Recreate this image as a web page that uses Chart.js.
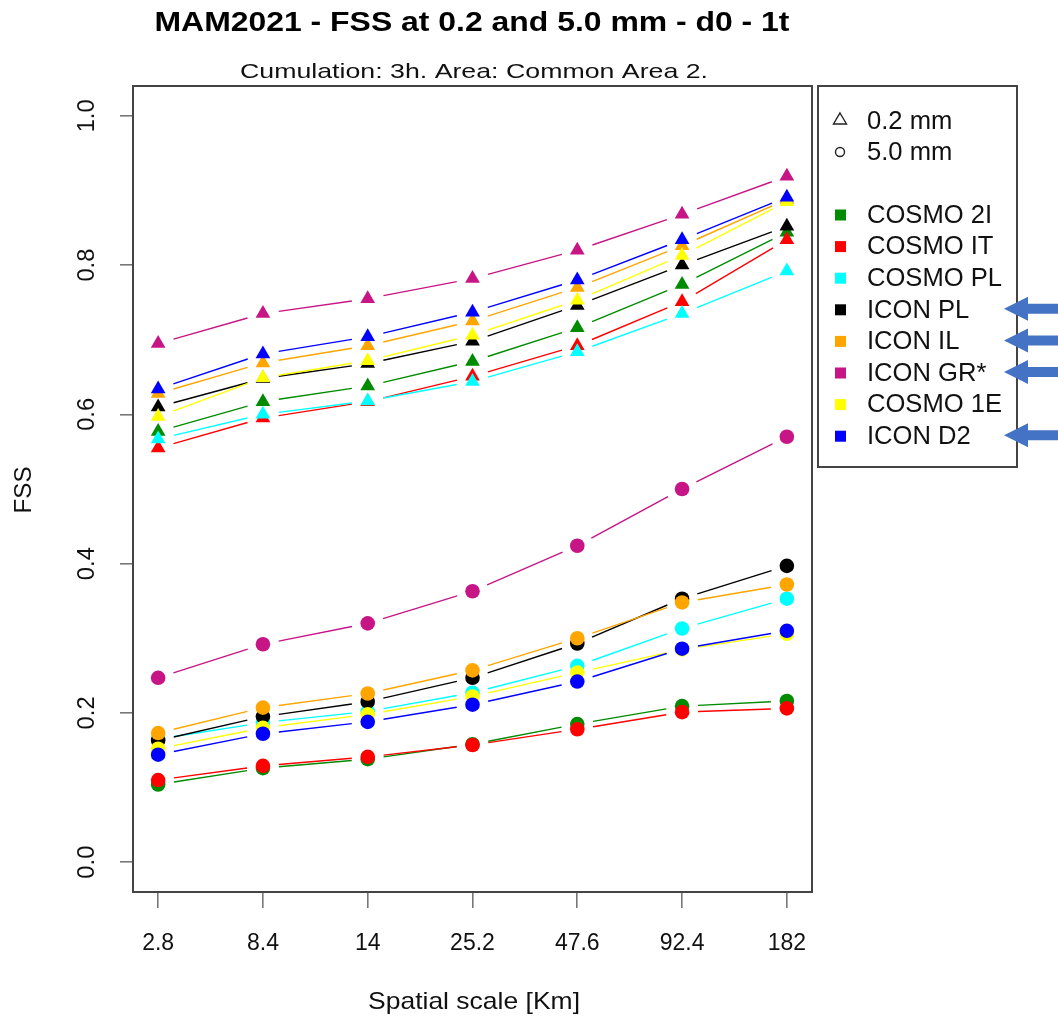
<!DOCTYPE html>
<html>
<head>
<meta charset="utf-8">
<script src="https://cdn.jsdelivr.net/npm/chart.js@4.4.1/dist/chart.umd.min.js"></script>
<style>
  body { margin: 0; background: #fff; }
</style>
</head>
<body>
<canvas id="fssChart" width="1058" height="1018"></canvas>
<script>
const scaleLabels = ['2.8', '8.4', '14', '25.2', '47.6', '92.4', '182'];
const yTicks = [0, 0.2, 0.4, 0.6, 0.8, 1.0];
const modelNames = ['COSMO 2I', 'COSMO IT', 'COSMO PL', 'ICON PL', 'ICON IL', 'ICON GR*', 'COSMO 1E', 'ICON D2'];
const modelColors = ['#008B00', '#FF0000', '#00FFFF', '#000000', '#FFA500', '#C71585', '#FFFF00', '#0000FF'];
const arrowRows = ['ICON PL', 'ICON IL', 'ICON GR*', 'ICON D2'];

// FSS at 0.2 mm threshold (triangles)
const cosmo2I_02 = [0.577, 0.617, 0.638, 0.671, 0.716, 0.774, 0.844];
const cosmoIT_02 = [0.555, 0.595, 0.617, 0.651, 0.692, 0.751, 0.834];
const cosmoPL_02 = [0.567, 0.600, 0.618, 0.644, 0.684, 0.735, 0.792];
const iconPL_02  = [0.610, 0.648, 0.668, 0.698, 0.746, 0.800, 0.852];
const iconIL_02  = [0.628, 0.669, 0.692, 0.725, 0.770, 0.826, 0.888];
const iconGR_02  = [0.695, 0.735, 0.755, 0.782, 0.820, 0.868, 0.919];
const cosmo1E_02 = [0.597, 0.649, 0.672, 0.706, 0.753, 0.813, 0.885];
const iconD2_02  = [0.634, 0.681, 0.704, 0.737, 0.780, 0.834, 0.891];

// FSS at 5.0 mm threshold (circles)
const cosmo2I_50 = [0.104, 0.126, 0.138, 0.158, 0.185, 0.209, 0.216];
const cosmoIT_50 = [0.110, 0.129, 0.141, 0.157, 0.178, 0.201, 0.206];
const cosmoPL_50 = [0.165, 0.187, 0.202, 0.227, 0.263, 0.313, 0.353];
const iconPL_50  = [0.163, 0.195, 0.215, 0.247, 0.293, 0.353, 0.397];
const iconIL_50  = [0.173, 0.207, 0.226, 0.257, 0.300, 0.348, 0.372];
const iconGR_50  = [0.247, 0.292, 0.320, 0.363, 0.424, 0.500, 0.570];
const cosmo1E_50 = [0.152, 0.180, 0.198, 0.222, 0.254, 0.285, 0.306];
const iconD2_50  = [0.144, 0.172, 0.188, 0.211, 0.242, 0.286, 0.310];

const fss02 = [cosmo2I_02, cosmoIT_02, cosmoPL_02, iconPL_02, iconIL_02, iconGR_02, cosmo1E_02, iconD2_02];
const fss50 = [cosmo2I_50, cosmoIT_50, cosmoPL_50, iconPL_50, iconIL_50, iconGR_50, cosmo1E_50, iconD2_50];

const FONT = '"Liberation Sans", Arial, sans-serif';
const GAP = 16; // R type="b": lines stop short of the points

const datasets = [];
modelNames.forEach((name, i) => {
  const col = modelColors[i];
  datasets.push({
    label: name + ' 0.2 mm',
    data: fss02[i].map((v, k) => ({ x: k + 1, y: v })),
    borderColor: col, backgroundColor: col, showLine: false,
    pointStyle: 'triangle', pointRadius: 8.5, pointBorderWidth: 0,
    order: -i
  });
  datasets.push({
    label: name + ' 5.0 mm',
    data: fss50[i].map((v, k) => ({ x: k + 1, y: v })),
    borderColor: col, backgroundColor: col, showLine: false,
    pointStyle: 'circle', pointRadius: 7.3, pointBorderWidth: 0,
    order: -i
  });
});

// draw text squeezed/stretched to a given width
function fitText(ctx, text, x, y, width, font, align) {
  ctx.font = font;
  const w = ctx.measureText(text).width;
  ctx.save();
  ctx.translate(x, y);
  ctx.scale(width / w, 1);
  ctx.textAlign = align || 'center';
  ctx.textBaseline = 'middle';
  ctx.fillText(text, 0, 0);
  ctx.restore();
}

function drawArrow(ctx, tipX, y) {
  ctx.fillStyle = '#4472C4';
  ctx.beginPath();
  ctx.moveTo(tipX, y);
  ctx.lineTo(tipX + 24, y - 12);
  ctx.lineTo(tipX + 24, y - 5);
  ctx.lineTo(1058, y - 5);
  ctx.lineTo(1058, y + 5);
  ctx.lineTo(tipX + 24, y + 5);
  ctx.lineTo(tipX + 24, y + 12);
  ctx.closePath();
  ctx.fill();
}

// connect the library's point elements with shortened segments
const gapLines = {
  id: 'gapLines',
  beforeDatasetsDraw(chart) {
    const ctx = chart.ctx;
    ctx.save();
    ctx.lineWidth = 1.4;
    chart.data.datasets.forEach((ds, i) => {
      const pts = chart.getDatasetMeta(i).data;
      ctx.strokeStyle = ds.borderColor;
      ctx.beginPath();
      for (let k = 0; k < pts.length - 1; k++) {
        const a = pts[k], b = pts[k + 1];
        const dx = b.x - a.x, dy = b.y - a.y;
        const len = Math.hypot(dx, dy);
        if (len <= 2 * GAP) continue;
        const ux = dx / len, uy = dy / len;
        ctx.moveTo(a.x + ux * GAP, a.y + uy * GAP);
        ctx.lineTo(b.x - ux * GAP, b.y - uy * GAP);
      }
      ctx.stroke();
    });
    ctx.restore();
  }
};

const decorations = {
  id: 'decorations',
  afterDraw(chart) {
    const ctx = chart.ctx;
    const area = chart.chartArea;
    const yScale = chart.scales.y;
    ctx.save();
    ctx.fillStyle = '#000';

    // titles
    fitText(ctx, 'MAM2021 - FSS at 0.2 and 5.0 mm - d0 - 1t', 472, 24, 635, 'bold 27px ' + FONT);
    ctx.fillStyle = '#111';
    fitText(ctx, 'Cumulation: 3h. Area: Common Area 2.', 474, 72, 468, '21px ' + FONT);
    fitText(ctx, 'Spatial scale [Km]', 474, 1002, 212, '24px ' + FONT);

    // y axis title
    ctx.save();
    ctx.translate(24, 490);
    ctx.rotate(-Math.PI / 2);
    fitText(ctx, 'FSS', 0, 0, 47, '24px ' + FONT);
    ctx.restore();

    // y tick labels, vertical like R
    yTicks.forEach(t => {
      const py = yScale.getPixelForValue(t);
      ctx.save();
      ctx.translate(88, py);
      ctx.rotate(-Math.PI / 2);
      fitText(ctx, t.toFixed(1), 0, 0, 33, '23px ' + FONT);
      ctx.restore();
    });

    // plot box
    ctx.strokeStyle = '#444';
    ctx.lineWidth = 2;
    ctx.strokeRect(area.left, area.top, area.right - area.left, area.bottom - area.top);

    // legend box
    ctx.strokeRect(818, 86, 199, 381);
    ctx.font = '25px ' + FONT;
    const sx = 135 / ctx.measureText('COSMO PL').width;
    const legendText = (txt, y) => {
      ctx.save();
      ctx.translate(867, y);
      ctx.scale(sx, 1);
      ctx.font = '25px ' + FONT;
      ctx.textAlign = 'left';
      ctx.textBaseline = 'middle';
      ctx.fillStyle = '#111';
      ctx.fillText(txt, 0, 0);
      ctx.restore();
    };
    // triangle / circle keys
    ctx.strokeStyle = '#222';
    ctx.lineWidth = 1.4;
    ctx.beginPath();
    ctx.moveTo(840, 113);
    ctx.lineTo(846.5, 124);
    ctx.lineTo(833.5, 124);
    ctx.closePath();
    ctx.stroke();
    legendText('0.2 mm', 122);
    ctx.beginPath();
    ctx.arc(840, 152, 4.5, 0, Math.PI * 2);
    ctx.stroke();
    legendText('5.0 mm', 153);

    modelNames.forEach((name, i) => {
      const y = 215 + i * 31.6;
      ctx.fillStyle = modelColors[i];
      ctx.fillRect(835, y - 5.5, 11, 11);
      legendText(name, y + 1);
      if (arrowRows.includes(name)) drawArrow(ctx, 1004, y - 1);
    });
    ctx.restore();
  }
};

new Chart(document.getElementById('fssChart'), {
  type: 'line',
  data: { datasets: datasets },
  options: {
    responsive: false,
    animation: false,
    layout: { padding: { left: 0, top: 86, right: 246, bottom: 0 } },
    plugins: {
      legend: { display: false },
      title: { display: false },
      tooltip: { enabled: false }
    },
    scales: {
      x: {
        type: 'linear',
        min: 0.76,
        max: 7.24,
        afterBuildTicks: axis => { axis.ticks = scaleLabels.map((_, i) => ({ value: i + 1 })); },
        afterFit: axis => { axis.height = 126; },
        grid: { drawOnChartArea: false, tickLength: 16, color: '#777', lineWidth: 1.6 },
        border: { display: false },
        ticks: {
          callback: (v, idx) => scaleLabels[idx],
          font: { family: FONT, size: 23 },
          color: '#111',
          padding: 22,
          maxRotation: 0,
          autoSkip: false
        }
      },
      y: {
        min: -0.04,
        max: 1.04,
        afterBuildTicks: axis => { axis.ticks = yTicks.map(v => ({ value: v })); },
        afterFit: axis => { axis.width = 133; },
        grid: { drawOnChartArea: false, tickLength: 13, color: '#777', lineWidth: 1.6 },
        border: { display: false },
        ticks: { display: false }
      }
    }
  },
  plugins: [gapLines, decorations]
});
</script>
</body>
</html>
